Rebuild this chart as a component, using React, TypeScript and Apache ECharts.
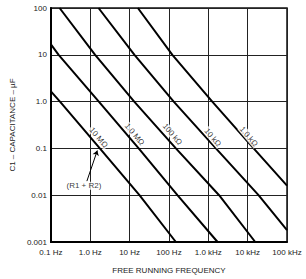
import React, { useEffect, useRef } from "react";
import * as echarts from "echarts";

// Frequency tick labels (0.1 Hz .. 100 kHz) and capacitance tick labels (0.001 .. 100 µF)
const xTickLabels = ["0.1 Hz", "1.0 Hz", "10 Hz", "100 Hz", "1.0 kHz", "10 kHz", "100 kHz"];
const yTickLabels = ["0.001", "0.01", "0.1", "1.0", "10", "100"];

// Curves: [frequency Hz, capacitance µF]
const r10M: [number, number][] = [[0.1, 1.65], [0.17, 1], [1.75, 0.1], [17.8, 0.01], [150, 0.001]];
const r1M: [number, number][] = [[0.1, 16.7], [0.157, 10], [1.65, 1], [17, 0.1], [164, 0.01], [1720, 0.001]];
const r100k: [number, number][] = [[0.166, 100], [1.33, 10], [13.1, 1], [150, 0.1], [1880, 0.01], [15600, 0.001]];
const r10k: [number, number][] = [[1.62, 100], [13.3, 10], [132, 1], [1560, 0.1], [18900, 0.01], [100000, 0.0018]];
const r1k: [number, number][] = [[16.2, 100], [122, 10], [1260, 1], [14200, 0.1], [100000, 0.016]];

const curveNames = ["10 MΩ", "1.0 MΩ", "100 kΩ", "10 kΩ", "1.0 kΩ"];
const curves = [r10M, r1M, r100k, r10k, r1k];
// label anchor points on each curve [f, C]
const labelPoints: [number, number][] = [[1.62, 0.171], [13.3, 0.2], [122, 0.2], [1290, 0.171], [10600, 0.18]];

const noteText = "(R1 + R2)";
const notePoint: [number, number] = [0.69, 0.0159];
const arrowFrom: [number, number] = [0.82, 0.02];
const arrowTo: [number, number] = [1.51, 0.09];

const FONT = "'Liberation Sans', Arial, sans-serif";

export default function App() {
  const ref = useRef<HTMLDivElement>(null);
  useEffect(() => {
    document.body.style.margin = "0";
    if (!ref.current) return;
    const chart = echarts.init(ref.current, undefined, { renderer: "svg" });
    const lineSeries = curves.map((d, i) => ({
      type: "line",
      name: curveNames[i],
      data: d,
      showSymbol: false,
      symbol: "none",
      clip: true,
      color: "#000",
      lineStyle: { color: "#000", width: 2 },
      z: 3,
    }));
    const textLabel = {
      show: true,
      position: "inside",
      formatter: (p: any) => p.name,
      fontFamily: FONT,
      fontSize: 8,
      color: "#000",
      textBorderWidth: 0,
      backgroundColor: "#fff",
      padding: [0, 1],
    };
    chart.setOption({
      animation: false,
      backgroundColor: "#fff",
      color: ["#000"],
      grid: {
        left: 49,
        right: 19,
        top: 8,
        bottom: 34,
        show: true,
        borderColor: "#111",
        borderWidth: 1.5,
      },
      xAxis: {
        type: "log",
        logBase: 10,
        min: 0.1,
        max: 100000,
        splitNumber: 6,
        name: "FREE RUNNING FREQUENCY",
        nameLocation: "middle",
        nameGap: 24,
        nameTextStyle: { fontFamily: FONT, fontSize: 8, color: "#222" },
        axisLine: { show: true, lineStyle: { color: "#000", width: 2 } },
        axisTick: { show: false },
        splitLine: { show: true, lineStyle: { color: "#222", width: 1 } },
        axisLabel: {
          fontFamily: FONT,
          fontSize: 8,
          color: "#222",
          margin: 6,
          formatter: (v: number) => xTickLabels[Math.round(Math.log10(v)) + 1] ?? "",
        },
      },
      yAxis: {
        type: "log",
        logBase: 10,
        min: 0.001,
        max: 100,
        splitNumber: 5,
        name: "C1 – CAPACITANCE – µF",
        nameLocation: "middle",
        nameRotate: 90,
        nameGap: 28,
        nameTextStyle: { fontFamily: FONT, fontSize: 8, color: "#222" },
        axisLine: { show: true, lineStyle: { color: "#000", width: 2 } },
        axisTick: { show: false },
        splitLine: { show: true, lineStyle: { color: "#222", width: 1 } },
        axisLabel: {
          fontFamily: FONT,
          fontSize: 8,
          color: "#222",
          margin: 4,
          formatter: (v: number) => yTickLabels[Math.round(Math.log10(v)) + 3] ?? "",
        },
      },
      series: [
        ...lineSeries,
        {
          type: "scatter",
          name: "labels",
          symbolSize: 0,
          color: "#000",
          itemStyle: { color: "#000" },
          z: 10,
          data: labelPoints.map((p, i) => ({ value: p, name: curveNames[i] })),
          label: { ...textLabel, rotate: -50 },
        },
        {
          type: "scatter",
          name: "note",
          symbolSize: 0,
          color: "#000",
          itemStyle: { color: "#000" },
          z: 10,
          data: [{ value: notePoint, name: noteText }],
          label: textLabel,
          markLine: {
            silent: true,
            symbol: ["none", "arrow"],
            symbolSize: 5,
            label: { show: false },
            lineStyle: { color: "#000", width: 1, type: "solid" },
            data: [[{ coord: arrowFrom }, { coord: arrowTo }]],
          },
        },
      ],
    });
    return () => chart.dispose();
  }, []);
  return <div ref={ref} style={{ width: 306, height: 279 }} />;
}
